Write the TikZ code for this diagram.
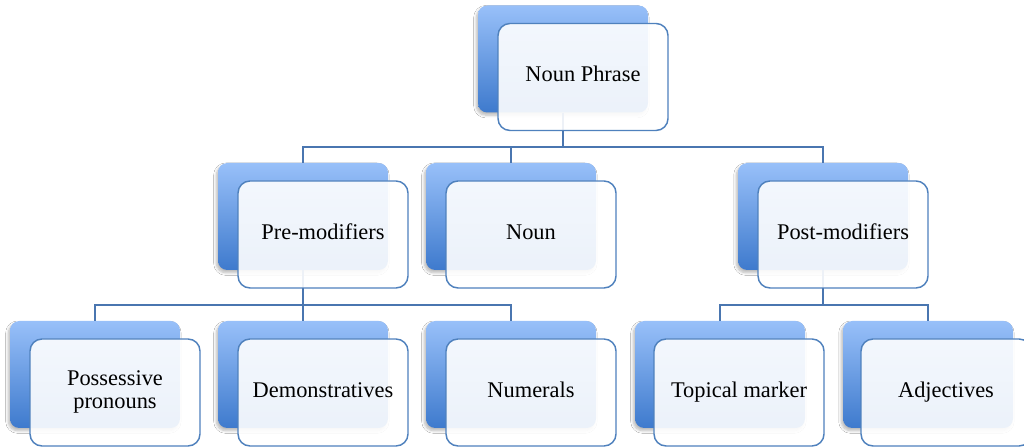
\documentclass[tikz,border=0pt]{standalone}
\usepackage{fontspec}
\setmainfont{Liberation Serif}
\usetikzlibrary{shadows.blur,calc}
\definecolor{backtop}{RGB}{152,192,249}
\definecolor{backbot}{RGB}{62,122,205}
\definecolor{frontline}{RGB}{79,129,189}
\definecolor{conn}{RGB}{74,118,176}
\begin{document}
\begin{tikzpicture}[x=0.75pt,y=-0.75pt,
 backbox/.style={rectangle, rounded corners=7pt, minimum width=127.5pt, minimum height=80.25pt,
   top color=backtop, bottom color=backbot, draw=none,
   blur shadow={shadow xshift=-1.2pt, shadow yshift=-2pt, shadow blur radius=2pt, shadow blur steps=6, shadow opacity=28}},
 frontbox/.style={rectangle, rounded corners=9pt, minimum width=127.5pt, minimum height=80.25pt,
   draw=frontline, line width=1.1pt, fill=white, fill opacity=0.9, text opacity=1, draw opacity=1,
   align=center, font=\fontsize{16.8}{17}\selectfont},
 link/.style={draw=conn, line width=1.1pt}]
\path[use as bounding box, clip] (0,0) rectangle (1024,448);
\fill[white] (0,0) rectangle (1024,448);
% back boxes
\node[backbox] (npb) at (563,59) {};
\node[backbox] (preb) at (303,216.5) {};
\node[backbox] (nounb) at (511,216.5) {};
\node[backbox] (postb) at (823,216.5) {};
\node[backbox] (possb) at (95,374.5) {};
\node[backbox] (demb) at (303,374.5) {};
\node[backbox] (numb) at (511,374.5) {};
\node[backbox] (topb) at (720,374.5) {};
\node[backbox] (adjb) at (928,374.5) {};
% connectors
\coordinate (j1) at (563,147);
\coordinate (j2) at (303,305);
\draw[link] (npb.south) -- (npb.south |- j1) -| (preb.north);
\draw[link] (npb.south |- j1) -| (nounb.north);
\draw[link] (npb.south |- j1) -| (postb.north);
\draw[link] (preb.south) -- (preb.south |- j2) -| (possb.north);
\draw[link] (preb.south |- j2) -- (demb.north);
\draw[link] (preb.south |- j2) -| (numb.north);
\draw[link] (postb.south) -- (postb.south |- j2) -| (topb.north);
\draw[link] (postb.south |- j2) -| (adjb.north);
% front boxes
\node[frontbox] (np) at ($(npb)+(20,18)$) {\strut Noun Phrase};
\node[frontbox] (pre) at ($(preb)+(20,18)$) {\strut Pre-modifiers};
\node[frontbox] (noun) at ($(nounb)+(20,18)$) {\strut Noun};
\node[frontbox] (post) at ($(postb)+(20,18)$) {\strut Post-modifiers};
\node[frontbox] (poss) at ($(possb)+(20,18)$) {\strut Possessive\\\strut pronouns};
\node[frontbox] (dem) at ($(demb)+(20,18)$) {\strut Demonstratives};
\node[frontbox] (num) at ($(numb)+(20,18)$) {\strut Numerals};
\node[frontbox] (top) at ($(topb)+(19,18)$) {\strut Topical marker};
\node[frontbox] (adj) at ($(adjb)+(18,18)$) {\strut Adjectives};
\end{tikzpicture}
\end{document}
